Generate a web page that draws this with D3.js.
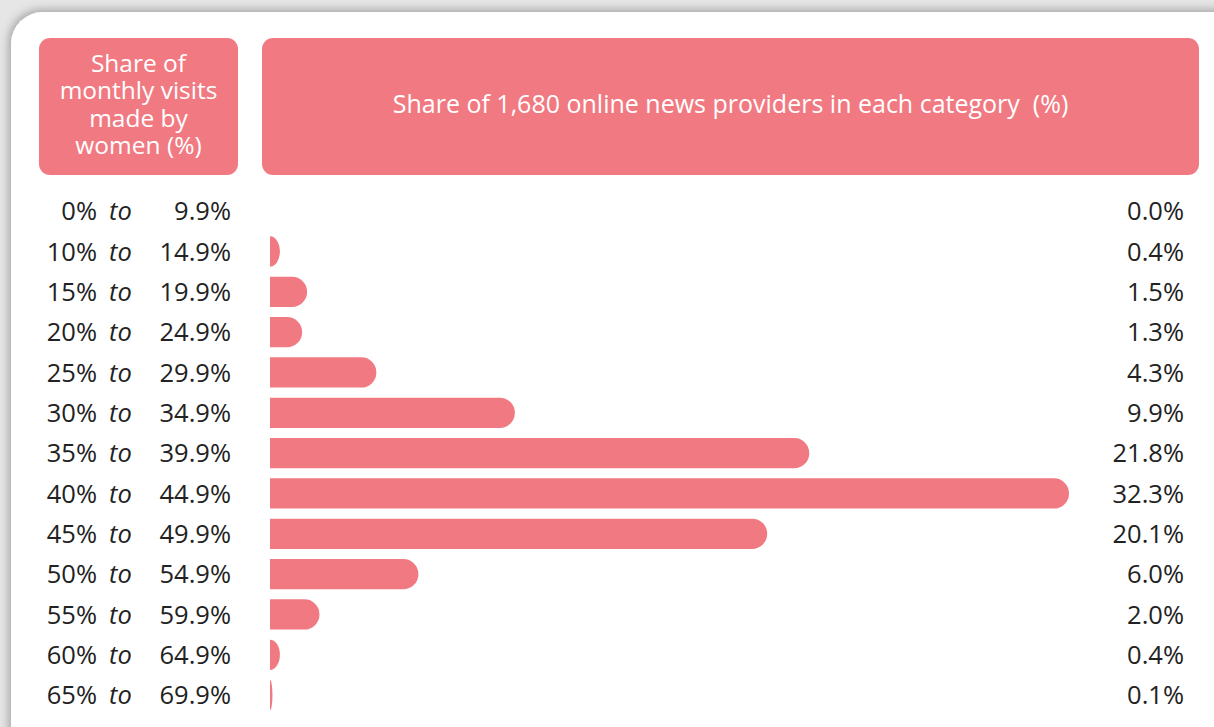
<!DOCTYPE html>
<html>
<head>
<meta charset="utf-8">
<script src="https://cdn.jsdelivr.net/npm/d3@7"></script>
<style>
  html, body { margin: 0; padding: 0; background: #e6e6e6; }
  svg { display: block; }
</style>
</head>
<body>
<script>
// Row labels (share of monthly visits made by women)
const lowLabels = ["0%", "10%", "15%", "20%", "25%", "30%", "35%", "40%", "45%", "50%", "55%", "60%", "65%"];
const highLabels = ["9.9%", "14.9%", "19.9%", "24.9%", "29.9%", "34.9%", "39.9%", "44.9%", "49.9%", "54.9%", "59.9%", "64.9%", "69.9%"];
// Share of providers in each category (%)
const shares = [0.0, 0.4, 1.5, 1.3, 4.3, 9.9, 21.8, 32.3, 20.1, 6.0, 2.0, 0.4, 0.1];

const leftTitle = ["Share of", "monthly visits", "made by", "women (%)"];
const rightTitle = "Share of 1,680 online news providers in each category\u00a0 (%)";

const width = 1214;
const height = 727;
const pink = "#f17a82";
const font = "'Open Sans', sans-serif";

const svg = d3.select("body").append("svg")
    .attr("width", width)
    .attr("height", height);

// drop shadow for the white panel
const defs = svg.append("defs");
const f = defs.append("filter").attr("id", "shadow")
    .attr("x", -0.05).attr("y", -0.05).attr("width", 1.1).attr("height", 1.1);
f.append("feDropShadow")
    .attr("dx", -2).attr("dy", -2)
    .attr("stdDeviation", 5)
    .attr("flood-color", "#000")
    .attr("flood-opacity", 0.3);

svg.append("rect")
    .attr("x", 11).attr("y", 12)
    .attr("width", 1240).attr("height", 760)
    .attr("rx", 32)
    .attr("fill", "#fff")
    .attr("filter", "url(#shadow)");

// header boxes
svg.append("rect")
    .attr("x", 39).attr("y", 38)
    .attr("width", 199).attr("height", 137)
    .attr("rx", 11)
    .attr("fill", pink);

svg.append("rect")
    .attr("x", 262).attr("y", 38)
    .attr("width", 937).attr("height", 137)
    .attr("rx", 11)
    .attr("fill", pink);

svg.append("text")
    .attr("text-anchor", "middle")
    .attr("font-family", font)
    .attr("font-size", 24.5)
    .attr("fill", "#fff")
    .selectAll("tspan")
    .data(leftTitle)
    .join("tspan")
    .attr("x", 138.5)
    .attr("y", (d, i) => 72 + i * 27.3)
    .text(d => d);

svg.append("text")
    .attr("x", 730.5)
    .attr("y", 113)
    .attr("text-anchor", "middle")
    .attr("font-family", font)
    .attr("font-size", 25)
    .attr("fill", "#fff")
    .text(rightTitle);

// scales
const x = d3.scaleLinear()
    .domain([0, d3.max(shares)])
    .range([270, 1069]);

const y = d3.scaleBand()
    .domain(d3.range(shares.length))
    .range([191, 191 + 13 * 40.33])
    .paddingInner(0.25)
    .paddingOuter(0.125);

// bar with square left end and rounded right end
function barPath(i) {
    const x0 = x(0), x1 = x(shares[i]);
    const w = x1 - x0;
    if (w <= 0) return null;
    const h = y.bandwidth();
    const y0 = y(i);
    const ry = h / 2;
    const rx = Math.min(ry, w);
    return `M${x0},${y0} H${x1 - rx} A${rx},${ry} 0 0 1 ${x1},${y0 + ry} A${rx},${ry} 0 0 1 ${x1 - rx},${y0 + h} H${x0} Z`;
}

svg.append("g")
    .selectAll("path")
    .data(shares)
    .join("path")
    .attr("d", (d, i) => barPath(i))
    .attr("fill", pink);

const rows = svg.append("g")
    .attr("font-family", font)
    .attr("font-size", 25.5)
    .attr("fill", "#222")
    .selectAll("g")
    .data(shares)
    .join("g")
    .attr("transform", (d, i) => `translate(0,${y(i) + y.bandwidth() / 2})`);

rows.append("text")
    .attr("x", 97)
    .attr("dy", "0.36em")
    .attr("text-anchor", "end")
    .text((d, i) => lowLabels[i]);

rows.append("text")
    .attr("x", 109)
    .attr("dy", "0.36em")
    .attr("font-style", "italic")
    .text("to");

rows.append("text")
    .attr("x", 231)
    .attr("dy", "0.36em")
    .attr("text-anchor", "end")
    .text((d, i) => highLabels[i]);

rows.append("text")
    .attr("x", 1184)
    .attr("dy", "0.36em")
    .attr("text-anchor", "end")
    .text(d => d3.format(".1f")(d) + "%");
</script>
</body>
</html>
